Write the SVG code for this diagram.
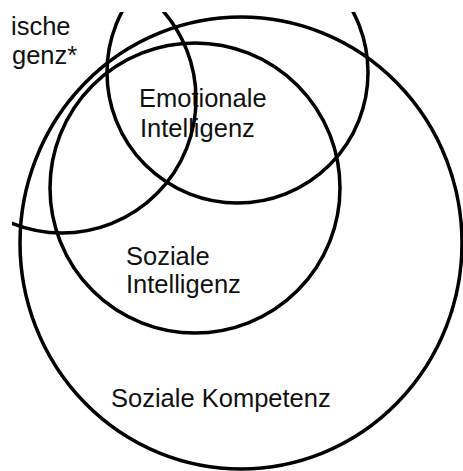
<svg xmlns="http://www.w3.org/2000/svg" width="463" height="471" viewBox="0 0 463 471">
  <style>
    .ring { fill: none; stroke: #000; stroke-width: 3.5; }
    .lbl { font-family: "Liberation Sans", Arial, sans-serif; font-size: 25.5px; fill: #111; }
  </style>
  <defs>
    <clipPath id="frame"><rect x="12" y="12" width="451" height="459"/></clipPath>
  </defs>
  <rect width="463" height="471" fill="#fff"/>
  <g id="soziale-kompetenz">
    <ellipse class="ring" cx="241" cy="243" rx="221" ry="226" clip-path="url(#frame)"/>
    <text class="lbl" x="111" y="407">Soziale Kompetenz</text>
  </g>
  <g id="soziale-intelligenz">
    <circle class="ring" cx="195" cy="188" r="145" clip-path="url(#frame)"/>
    <text class="lbl" x="126" y="265">Soziale</text>
    <text class="lbl" x="126" y="293">Intelligenz</text>
  </g>
  <g id="emotionale-intelligenz">
    <circle class="ring" cx="237.5" cy="72.5" r="130.5" clip-path="url(#frame)"/>
    <text class="lbl" x="139" y="107">Emotionale</text>
    <text class="lbl" x="140" y="137">Intelligenz</text>
  </g>
  <g id="ische-intelligenz">
    <circle class="ring" cx="62" cy="99" r="134" clip-path="url(#frame)"/>
    <text class="lbl" x="11" y="35">ische</text>
    <text class="lbl" x="12" y="64">genz*</text>
  </g>
</svg>
